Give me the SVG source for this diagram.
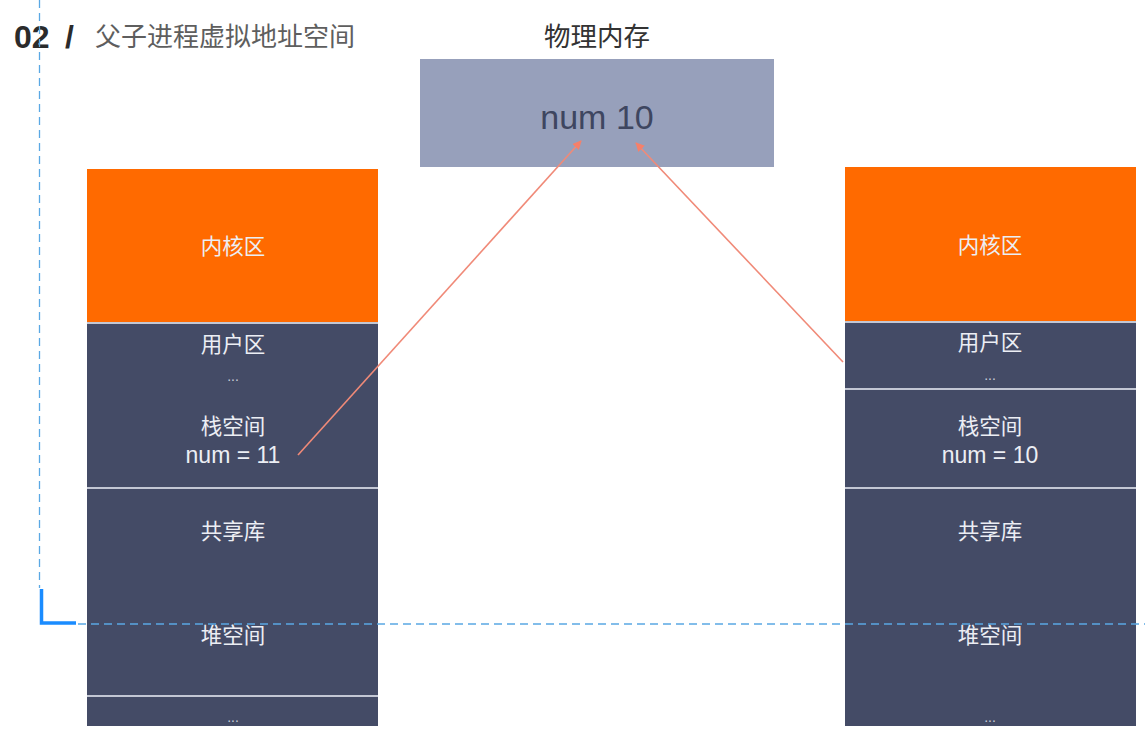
<svg xmlns="http://www.w3.org/2000/svg" width="1145" height="736" viewBox="0 0 1145 736">
<style>
.lbl{font-family:"Noto Sans CJK SC","Liberation Sans",sans-serif;font-size:21.5px;fill:#eceef4;text-anchor:middle}
.num{font-family:"Liberation Sans","Noto Sans CJK SC",sans-serif;font-size:23px;fill:#eceef4;text-anchor:middle}
.dots{font-family:"Liberation Sans",sans-serif;font-size:14px;fill:#c9ccd8;text-anchor:middle}
.dark{fill:#444b66}
.kern{fill:#ff6a00}
.div{stroke:#c3c7d4;stroke-width:2}
.guide{stroke:#5aa8e4;stroke-width:1.3;stroke-dasharray:8 5;fill:none}
.arrow{stroke:#f08a78;stroke-width:1.6;fill:none;marker-end:url(#ah)}
</style>
<defs>
<marker id="ah" viewBox="0 0 10 10" refX="9" refY="5" markerWidth="9" markerHeight="9" orient="auto" markerUnits="userSpaceOnUse">
<path d="M0,0 L10,5 L0,10 z" fill="#f5806a"/>
</marker>
</defs>
<rect width="1145" height="736" fill="#ffffff"/>

<g id="title">
<text x="14" y="48" font-family="Liberation Sans,sans-serif" font-size="32" font-weight="bold" fill="#2b2b2b">02<tspan x="65">/</tspan></text>
<text x="95" y="46" font-family="Noto Sans CJK SC,Liberation Sans,sans-serif" font-size="26" fill="#5e5e5e">父子进程虚拟地址空间</text>
</g>

<g id="memory">
<text x="597" y="46" font-family="Noto Sans CJK SC,Liberation Sans,sans-serif" font-size="26.5" fill="#333333" text-anchor="middle">物理内存</text>
<rect x="420" y="59" width="354" height="108" fill="#97a0bb"/>
<text x="597" y="129" font-family="Liberation Sans,sans-serif" font-size="34" fill="#3e4660" text-anchor="middle">num 10</text>
</g>

<g id="parent">
<rect x="87" y="169" width="291" height="153" class="kern"/>
<rect x="87" y="322" width="291" height="404" class="dark"/>
<line x1="87" y1="323" x2="378" y2="323" class="div"/>
<line x1="87" y1="488" x2="378" y2="488" class="div"/>
<line x1="87" y1="696" x2="378" y2="696" class="div"/>
<text x="233" y="254" class="lbl">内核区</text>
<text x="233" y="352" class="lbl">用户区</text>
<text x="233" y="381" class="dots">...</text>
<text x="233" y="434" class="lbl">栈空间</text>
<text x="233" y="463" class="num">num = 11</text>
<text x="233" y="539" class="lbl">共享库</text>
<text x="233" y="643" class="lbl">堆空间</text>
<text x="233" y="722" class="dots">...</text>
</g>

<g id="child">
<rect x="845" y="167" width="291" height="154" class="kern"/>
<rect x="845" y="321" width="291" height="405" class="dark"/>
<line x1="845" y1="322" x2="1136" y2="322" class="div"/>
<line x1="845" y1="389" x2="1136" y2="389" class="div"/>
<line x1="845" y1="488" x2="1136" y2="488" class="div"/>
<text x="990" y="253" class="lbl">内核区</text>
<text x="990" y="350" class="lbl">用户区</text>
<text x="990" y="380" class="dots">...</text>
<text x="990" y="434" class="lbl">栈空间</text>
<text x="990" y="463" class="num">num = 10</text>
<text x="990" y="539" class="lbl">共享库</text>
<text x="990" y="643" class="lbl">堆空间</text>
<text x="990" y="722" class="dots">...</text>
</g>

<g id="connectors">
<line x1="298" y1="455" x2="581" y2="141" class="arrow"/>
<line x1="843" y1="362" x2="636" y2="143" class="arrow"/>
</g>

<g id="guides">
<line x1="39.5" y1="0" x2="39.5" y2="588" class="guide"/>
<line x1="78" y1="624" x2="1145" y2="624" class="guide"/>
<path d="M41.5,589 V623 H76" stroke="#1a8cff" stroke-width="3.5" fill="none"/>
</g>
</svg>
